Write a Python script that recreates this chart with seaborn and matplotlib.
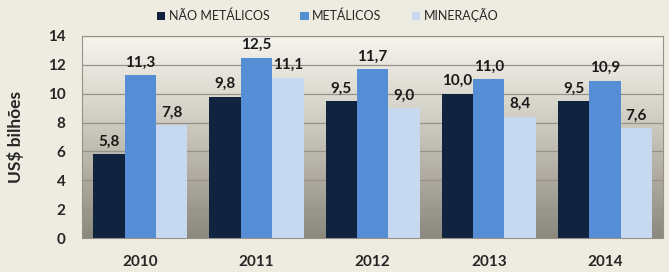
import matplotlib
matplotlib.use('Agg')
import matplotlib.pyplot as plt
import numpy as np
import pandas as pd
import seaborn as sns

anos = ['2010', '2011', '2012', '2013', '2014']
series = ['NÃO METÁLICOS', 'METÁLICOS', 'MINERAÇÃO']
nao_metalicos = [5.8, 9.8, 9.5, 10.0, 9.5]
metalicos = [11.3, 12.5, 11.7, 11.0, 10.9]
mineracao = [7.8, 11.1, 9.0, 8.4, 7.6]
cores = ['#10243F', '#558ED5', '#C6D9F1']

df = pd.DataFrame({
    'ano': anos * 3,
    'serie': [series[0]] * 5 + [series[1]] * 5 + [series[2]] * 5,
    'valor': nao_metalicos + metalicos + mineracao,
})

sns.set_style('white')
plt.rcParams['font.family'] = ['Lato', 'DejaVu Sans']

fig = plt.figure(figsize=(6.69, 2.72), dpi=100, facecolor='#EEEBE0')
ax = fig.add_axes([0.123, 0.125, 0.868, 0.743])

# fundo com degradê
grad = np.linspace(0, 1, 256).reshape(-1, 1)
cmap = matplotlib.colors.LinearSegmentedColormap.from_list('g', ['#F5F4EE', '#D9D6CC', '#B3AFA4', '#8B887E'])
ax.imshow(grad, aspect='auto', cmap=cmap, extent=[0, 1, 0, 1], transform=ax.transAxes, zorder=0)

for yv in range(2, 15, 2):
    ax.axhline(yv, color='#96928A', lw=0.9, zorder=1)

sns.barplot(data=df, x='ano', y='valor', hue='serie', palette=cores, width=0.81, gap=0,
            ax=ax, zorder=2, saturation=1, edgecolor='none')

for cont in ax.containers:
    labels = [f'{v:.1f}'.replace('.', ',') for v in cont.datavalues]
    ax.bar_label(cont, labels=labels, padding=4, fontsize=11, fontweight='bold', color='#1A1A1A')

ax.set_ylim(0, 14)
ax.set_xlim(-0.5, 4.5)
ax.set_yticks(range(0, 15, 2))
ax.set_xlabel('')
ax.set_ylabel('US$ bilhões', fontsize=12.5, fontweight='bold')
ax.yaxis.set_label_coords(-0.1, 0.5)
ax.tick_params(axis='both', length=0, labelsize=11)
ax.tick_params(axis='y', pad=12)
ax.tick_params(axis='x', pad=12)
for lab in ax.get_xticklabels() + ax.get_yticklabels():
    lab.set_fontweight('bold')
for s in ax.spines.values():
    s.set_color('#96928A')
    s.set_linewidth(0.8)

handles, labels = ax.get_legend_handles_labels()
ax.legend_.remove()
fig.legend(handles, labels, loc='center', bbox_to_anchor=(0.49, 0.943), ncol=3, frameon=False,
           fontsize=9, handlelength=0.7, handleheight=0.7, columnspacing=2.4, handletextpad=0.3)

fig.savefig('out.png', dpi=100, facecolor=fig.get_facecolor())
